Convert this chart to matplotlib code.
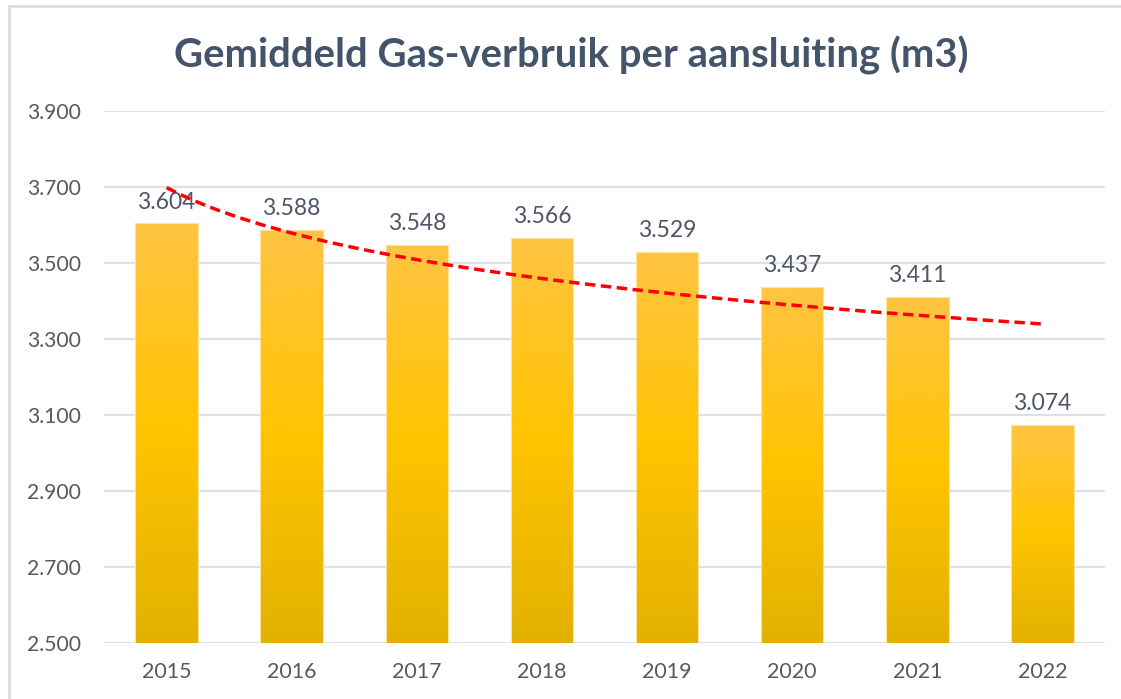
import numpy as np
import matplotlib
matplotlib.use("Agg")
import matplotlib.pyplot as plt
from matplotlib.colors import LinearSegmentedColormap
from matplotlib.lines import Line2D

years = ["2015", "2016", "2017", "2018", "2019", "2020", "2021", "2022"]
usage = [3604, 3588, 3548, 3566, 3529, 3437, 3411, 3074]
yticks = [2500, 2700, 2900, 3100, 3300, 3500, 3700, 3900]

title_color = "#44546A"
text_color = "#595959"
grid_color = "#DDE1E8"

plt.rcParams["font.family"] = ["Lato", "DejaVu Sans"]

fig = plt.figure(figsize=(11.21, 6.99), dpi=100)
ax = fig.add_axes([104 / 1121, 1 - 643 / 699, 1001 / 1121, 532 / 699])

x = np.arange(len(years))
bar_w = 0.5

# gold gradient, light at the top, darker at the bottom
gold = LinearSegmentedColormap.from_list(
    "gold", [(0.0, "#E2B100"), (0.5, "#FFC400"), (1.0, "#FFC443")])
grad = np.linspace(0, 1, 256).reshape(-1, 1)

bars = ax.bar(x, usage, width=bar_w, bottom=0, color="none",
              edgecolor="#FFE39A", linewidth=0.8, zorder=3)
for b in bars:
    x0, y0 = b.get_x(), 2500
    x1, y1 = x0 + b.get_width(), b.get_height()
    im = ax.imshow(grad, cmap=gold, aspect="auto", origin="lower",
                   extent=[x0, x1, y0, y1], zorder=2)
    im.set_clip_path(b)

for xi, v in zip(x, usage):
    ax.text(xi, v + 28, f"{v:,}".replace(",", "."), ha="center", va="bottom",
            fontsize=16.5, color="#4D5566", zorder=4)

# logarithmic trendline
lx = np.log(x + 1)
a, c = np.polyfit(lx, usage, 1)
xs = np.linspace(0, len(years) - 1, 200)
ax.plot(xs, a * np.log(xs + 1) + c, color="#FF0000", lw=2.5,
        linestyle=(0, (3, 1.6)), zorder=5)

ax.set_xlim(-0.5, len(years) - 0.5)
ax.set_ylim(2500, 3900)
ax.set_yticks(yticks)
ax.set_yticklabels([f"{t:,}".replace(",", ".") for t in yticks])
ax.set_xticks(x)
ax.set_xticklabels(years)
ax.tick_params(axis="y", length=0, labelsize=15.2, labelcolor=text_color, pad=16.5)
ax.tick_params(axis="x", length=0, labelsize=15.4, labelcolor=text_color, pad=13.5)
ax.grid(axis="y", color=grid_color, lw=1.6, zorder=0)
ax.set_axisbelow(True)
for s in ax.spines.values():
    s.set_visible(False)

fig.text(571 / 1121, 1 - 55 / 699, "Gemiddeld Gas-verbruik per aansluiting (m3)",
         ha="center", va="center", fontsize=28.8, fontweight="bold",
         color=title_color)

# chart frame (top and left edges visible)
fig.add_artist(Line2D([9 / 1121, 1.0], [1 - 6 / 699, 1 - 6 / 699],
                      transform=fig.transFigure, color="#D9D9D9", lw=1.8))
fig.add_artist(Line2D([9 / 1121, 9 / 1121], [0.0, 1 - 6 / 699],
                      transform=fig.transFigure, color="#D9D9D9", lw=1.8))

fig.savefig("out.png", dpi=100)
